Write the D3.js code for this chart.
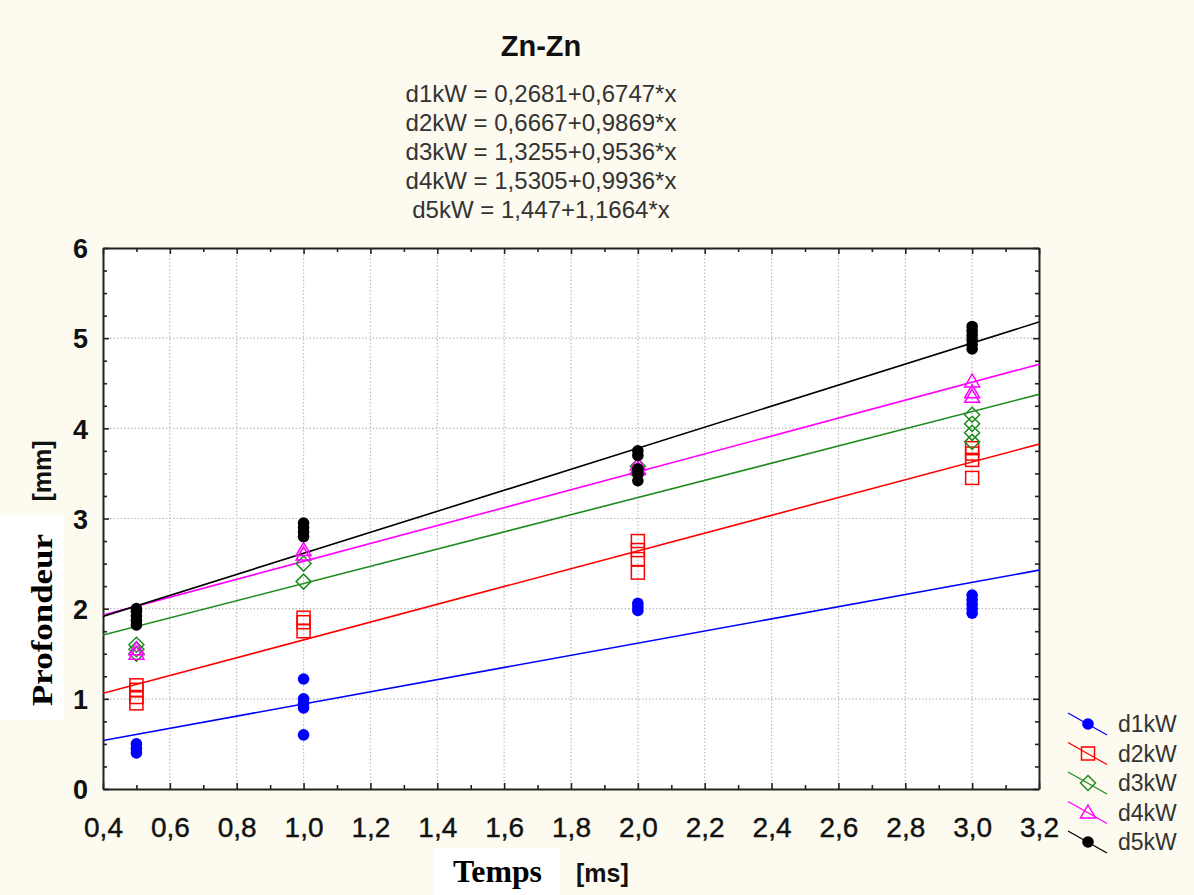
<!DOCTYPE html>
<html><head><meta charset="utf-8">
<script src="https://cdn.jsdelivr.net/npm/d3@7"></script>
<style>body{margin:0;background:#FDFAEF;}svg{display:block;}</style>
</head><body>
<svg id="chart" width="1194" height="895"></svg>
<script>
// ---- data ----
const title = "Zn-Zn";
const seriesNames = ["d1kW", "d2kW", "d3kW", "d4kW", "d5kW"];
const intercepts = [0.2681, 0.6667, 1.3255, 1.5305, 1.447];
const slopes = [0.6747, 0.9869, 0.9536, 0.9936, 1.1664];
const equationLabels = [
  "d1kW = 0,2681+0,6747*x",
  "d2kW = 0,6667+0,9869*x",
  "d3kW = 1,3255+0,9536*x",
  "d4kW = 1,5305+0,9936*x",
  "d5kW = 1,447+1,1664*x"
];
const xTicks = [0.4,0.6,0.8,1.0,1.2,1.4,1.6,1.8,2.0,2.2,2.4,2.6,2.8,3.0,3.2];
const yTicks = [0,1,2,3,4,5,6];
// points: [x, y]
const d1Points = [[0.5,0.40],[0.5,0.45],[0.5,0.50],
  [1.0,0.60],[1.0,0.90],[1.0,0.95],[1.0,1.00],[1.0,1.22],
  [2.0,1.98],[2.0,2.02],[2.0,2.06],
  [3.0,1.95],[3.0,2.00],[3.0,2.05],[3.0,2.10],[3.0,2.15]];
const d2Points = [[0.5,0.95],[0.5,1.02],[0.5,1.10],[0.5,1.15],
  [1.0,1.75],[1.0,1.85],[1.0,1.90],
  [2.0,2.40],[2.0,2.55],[2.0,2.65],[2.0,2.75],
  [3.0,3.45],[3.0,3.65],[3.0,3.72],[3.0,3.78]];
const d3Points = [[0.5,1.50],[0.5,1.55],[0.5,1.60],
  [1.0,2.30],[1.0,2.50],
  [2.0,3.50],[2.0,3.58],
  [3.0,3.85],[3.0,3.95],[3.0,4.05],[3.0,4.15]];
const d4Points = [[0.5,1.50],[0.5,1.55],
  [1.0,2.60],[1.0,2.65],
  [2.0,3.55],[2.0,3.60],
  [3.0,4.35],[3.0,4.40],[3.0,4.52]];
const d5Points = [[0.5,1.82],[0.5,1.87],[0.5,1.92],[0.5,1.97],[0.5,2.00],
  [1.0,2.80],[1.0,2.85],[1.0,2.90],[1.0,2.95],
  [2.0,3.42],[2.0,3.50],[2.0,3.55],[2.0,3.70],[2.0,3.75],
  [3.0,4.88],[3.0,4.93],[3.0,4.98],[3.0,5.03],[3.0,5.08],[3.0,5.13]];

// ---- styles ----
const colors = ["#0000FF", "#FF0000", "#1E8C1E", "#FF00FF", "#000000"];
const markers = ["fcircle", "square", "diamond", "triangle", "fcircle"];
const allPoints = [d1Points, d2Points, d3Points, d4Points, d5Points];

const svg = d3.select("#chart");
const L = 103, R = 1039, T = 248, B = 789;
const x = d3.scaleLinear().domain([0.4, 3.2]).range([L, R]);
const y = d3.scaleLinear().domain([0, 6]).range([B, T]);
const fmt = d => d3.format(".1f")(d).replace(".", ",");

// white boxes behind axis titles
svg.append("rect").attr("x", 0).attr("y", 515).attr("width", 64).attr("height", 205).attr("fill", "#fff");
svg.append("rect").attr("x", 434).attr("y", 848).attr("width", 126).attr("height", 47).attr("fill", "#fff");

// plot area
svg.append("rect").attr("x", L).attr("y", T).attr("width", R - L).attr("height", B - T).attr("fill", "#fff");

// grid
const grid = svg.append("g");
grid.selectAll(".gx").data(xTicks.slice(1, -1)).enter().append("line")
  .attr("x1", d => x(d)).attr("x2", d => x(d)).attr("y1", T).attr("y2", B)
  .attr("stroke", "#bdbdbd").attr("stroke-dasharray", "1.5,2").attr("stroke-width", 1.2);
grid.selectAll(".gy").data(yTicks.slice(1, -1)).enter().append("line")
  .attr("y1", d => y(d)).attr("y2", d => y(d)).attr("x1", L).attr("x2", R)
  .attr("stroke", "#bdbdbd").attr("stroke-dasharray", "1.5,2").attr("stroke-width", 1.2);

// axes with inward ticks
const xMinor = d3.range(0.5, 3.2, 0.2);
const yMinor = d3.range(0, 6.01, 0.25).filter(v => Math.abs(v - Math.round(v)) > 0.01);
const axB = svg.append("g").attr("transform", `translate(0,${B})`)
  .call(d3.axisBottom(x).tickValues(xTicks).tickFormat(fmt).tickSizeInner(-6).tickSizeOuter(0).tickPadding(28));
const axT = svg.append("g").attr("transform", `translate(0,${T})`)
  .call(d3.axisTop(x).tickValues(xTicks).tickFormat("").tickSizeInner(-6).tickSizeOuter(0));
const axL = svg.append("g").attr("transform", `translate(${L},0)`)
  .call(d3.axisLeft(y).tickValues(yTicks).tickFormat(d => d).tickSizeInner(-6).tickSizeOuter(0).tickPadding(15));
const axR = svg.append("g").attr("transform", `translate(${R},0)`)
  .call(d3.axisRight(y).tickValues(yTicks).tickFormat("").tickSizeInner(-6).tickSizeOuter(0));
svg.append("g").attr("transform", `translate(0,${B})`)
  .call(d3.axisBottom(x).tickValues(xMinor).tickFormat("").tickSizeInner(-4).tickSizeOuter(0)).select(".domain").remove();
svg.append("g").attr("transform", `translate(0,${T})`)
  .call(d3.axisTop(x).tickValues(xMinor).tickFormat("").tickSizeInner(-4).tickSizeOuter(0)).select(".domain").remove();
svg.append("g").attr("transform", `translate(${L},0)`)
  .call(d3.axisLeft(y).tickValues(yMinor).tickFormat("").tickSizeInner(-4).tickSizeOuter(0)).select(".domain").remove();
svg.append("g").attr("transform", `translate(${R},0)`)
  .call(d3.axisRight(y).tickValues(yMinor).tickFormat("").tickSizeInner(-4).tickSizeOuter(0)).select(".domain").remove();
svg.selectAll(".domain").attr("stroke", "#222").attr("stroke-width", 2);
svg.selectAll(".tick line").attr("stroke", "#222").attr("stroke-width", 1.6);
axB.selectAll("text").attr("font-family", "Liberation Sans, Arial, sans-serif").attr("font-size", 28)
  .attr("fill", "#111").attr("stroke", "#111").attr("stroke-width", 0.4);
axL.selectAll("text").attr("font-family", "Liberation Sans, Arial, sans-serif").attr("font-size", 27).attr("font-weight", "bold").attr("fill", "#111").attr("dy", "0.36em");

// regression lines (clipped)
svg.append("clipPath").attr("id", "clip").append("rect").attr("x", L).attr("y", T).attr("width", R - L).attr("height", B - T);
const lines = svg.append("g").attr("clip-path", "url(#clip)");
seriesNames.forEach((n, i) => {
  const xs = [0.4, 3.2];
  lines.append("path")
    .datum(xs.map(v => [v, intercepts[i] + slopes[i] * v]))
    .attr("d", d3.line().x(d => x(d[0])).y(d => y(d[1])))
    .attr("fill", "none").attr("stroke", colors[i]).attr("stroke-width", 1.6);
});

// marker helper
function drawMarker(g, type, cx, cy, color) {
  if (type === "fcircle") {
    g.append("circle").attr("cx", cx).attr("cy", cy).attr("r", 5.8).attr("fill", color);
  } else if (type === "square") {
    g.append("rect").attr("x", cx - 6.5).attr("y", cy - 6.5).attr("width", 13).attr("height", 13)
      .attr("fill", "none").attr("stroke", color).attr("stroke-width", 1.5);
  } else if (type === "diamond") {
    g.append("path").attr("d", `M${cx},${cy - 7.5}L${cx + 7.5},${cy}L${cx},${cy + 7.5}L${cx - 7.5},${cy}Z`)
      .attr("fill", "none").attr("stroke", color).attr("stroke-width", 1.5);
  } else if (type === "triangle") {
    g.append("path").attr("d", `M${cx},${cy - 7.5}L${cx + 7.5},${cy + 5.5}L${cx - 7.5},${cy + 5.5}Z`)
      .attr("fill", "none").attr("stroke", color).attr("stroke-width", 1.5);
  }
}
const pts = svg.append("g");
allPoints.forEach((arr, i) => {
  arr.forEach(p => drawMarker(pts, markers[i], x(p[0]), y(p[1]), colors[i]));
});

// title and equations
svg.append("text").attr("x", 541).attr("y", 56).attr("text-anchor", "middle")
  .attr("font-family", "Liberation Sans, Arial, sans-serif").attr("font-weight", "bold").attr("font-size", 29)
  .attr("fill", "#111").text(title);
equationLabels.forEach((t, i) => {
  svg.append("text").attr("x", 541).attr("y", 102 + i * 29).attr("text-anchor", "middle")
    .attr("font-family", "Liberation Sans, Arial, sans-serif").attr("font-size", 24)
    .attr("fill", "#333").text(t);
});

// axis titles
svg.append("text").attr("transform", "translate(52,620) rotate(-90)").attr("text-anchor", "middle")
  .attr("font-family", "Liberation Serif, Times New Roman, serif").attr("font-weight", "bold").attr("font-size", 30)
  .attr("textLength", 172).attr("lengthAdjust", "spacingAndGlyphs").attr("fill", "#000").text("Profondeur");
svg.append("text").attr("transform", "translate(51,471) rotate(-90)").attr("text-anchor", "middle")
  .attr("font-family", "Liberation Sans, Arial, sans-serif").attr("font-weight", "bold").attr("font-size", 25)
  .attr("fill", "#111").text("[mm]");
svg.append("text").attr("x", 453).attr("y", 882)
  .attr("font-family", "Liberation Serif, Times New Roman, serif").attr("font-weight", "bold").attr("font-size", 31)
  .attr("textLength", 89).attr("lengthAdjust", "spacingAndGlyphs").attr("fill", "#000").text("Temps");
svg.append("text").attr("x", 576).attr("y", 882)
  .attr("font-family", "Liberation Sans, Arial, sans-serif").attr("font-weight", "bold").attr("font-size", 25)
  .attr("fill", "#111").text("[ms]");

// legend
const leg = svg.append("g");
seriesNames.forEach((n, i) => {
  const cy = 724 + i * 29.5;
  leg.append("line").attr("x1", 1068).attr("y1", cy - 11).attr("x2", 1107).attr("y2", cy + 11)
    .attr("stroke", colors[i]).attr("stroke-width", 1.3);
  drawMarker(leg, markers[i], 1088, cy, colors[i]);
  leg.append("text").attr("x", 1118).attr("y", cy + 8)
    .attr("font-family", "Liberation Sans, Arial, sans-serif").attr("font-size", 23)
    .attr("fill", "#333").text(n);
});
</script>
</body></html>
